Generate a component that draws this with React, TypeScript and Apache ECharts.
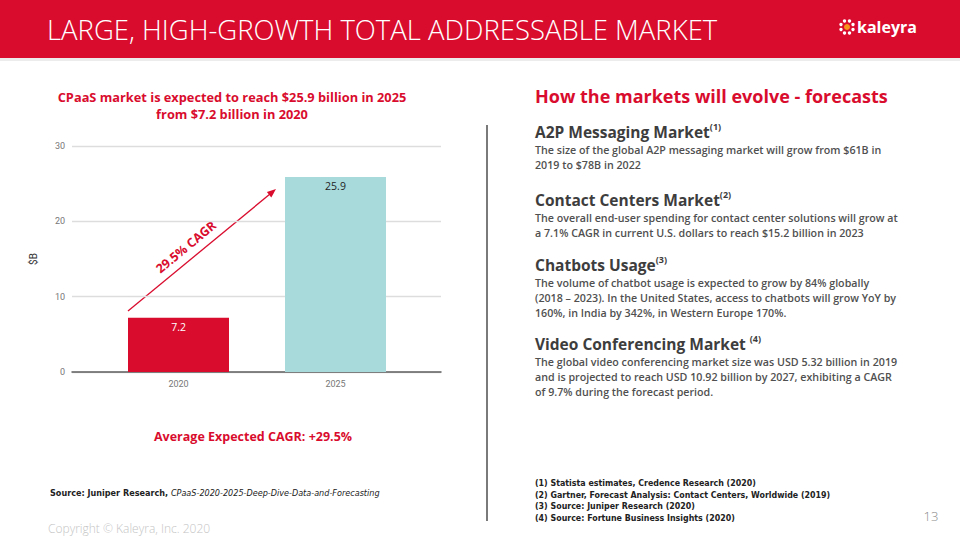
import React, { useEffect, useRef } from "react";
import * as echarts from "echarts";

const categories = ["2020", "2025"];
const values = [7.2, 25.9];
const barColors = ["#D90C2E", "#A8DADC"];
const labelColors = ["#ffffff", "#1f1f1f"];
const yMin = 0;
const yMax = 30;
const yInterval = 10;

const headerTitle = "LARGE, HIGH-GROWTH TOTAL ADDRESSABLE MARKET";
const chartTitleLines = [
  "CPaaS market is expected to reach $25.9 billion in 2025",
  "from $7.2 billion in 2020",
];
const cagrLabel = "29.5% CAGR";
const avgCagr = "Average Expected CAGR: +29.5%";
const rightTitle = "How the markets will evolve - forecasts";
const headings = [
  "A2P Messaging Market",
  "Contact Centers Market",
  "Chatbots Usage",
  "Video Conferencing Market ",
];
const sups = ["(1)", "(2)", "(3)", "(4)"];
const bodies = [
  [
    "The size of the global A2P messaging market will grow from $61B in",
    "2019 to $78B in 2022",
  ],
  [
    "The overall end-user spending for contact center solutions will grow at",
    "a 7.1% CAGR in current U.S. dollars to reach $15.2 billion in 2023",
  ],
  [
    "The volume of chatbot usage is expected to grow by 84% globally",
    "(2018 \u2013 2023). In the United States, access to chatbots will grow YoY by",
    "160%, in India by 342%, in Western Europe 170%.",
  ],
  [
    "The global video conferencing market size was USD 5.32 billion in 2019",
    "and is projected to reach USD 10.92 billion by 2027, exhibiting a CAGR",
    "of 9.7% during the forecast period.",
  ],
];
const footnotes = [
  "(1) Statista estimates, Credence Research (2020)",
  "(2) Gartner, Forecast Analysis: Contact Centers, Worldwide (2019)",
  "(3) Source: Juniper Research (2020)",
  "(4) Source: Fortune Business Insights (2020)",
];
const sourceLead = "Source: Juniper Research, ";
const sourceItalic = "CPaaS-2020-2025-Deep-Dive-Data-and-Forecasting";
const copyright = "Copyright \u00a9 Kaleyra, Inc. 2020";
const pageNumber = "13";

const RED = "#D90C2E";
const HEAD_FONT = "'Open Sans', 'Noto Sans', sans-serif";
const NARROW = "'Liberation Sans Narrow', 'DejaVu Sans Condensed', 'Open Sans', sans-serif";

export default function App() {
  const ref = useRef<HTMLDivElement>(null);
  useEffect(() => {
    document.body.style.margin = "0";
    const chart = echarts.init(ref.current!, null, { renderer: "svg" });

    const sectionY = [132, 200, 265, 344];
    const graphic: any[] = [];
    // header
    graphic.push({ type: "rect", shape: { x: 0, y: 0, width: 960, height: 58 }, style: { fill: RED } });
    graphic.push({ type: "rect", shape: { x: 0, y: 58, width: 960, height: 3 }, style: { fill: "#ececec" } });
    graphic.push({
      type: "text", x: 47, y: 29,
      style: { text: headerTitle, fill: "#ffffff", font: `300 27.5px ${HEAD_FONT}`, verticalAlign: "middle" },
    });
    // logo
    const cx = 847, cy = 27;
    for (let i = 0; i < 8; i++) {
      const a = (i * Math.PI) / 4 + Math.PI / 8;
      graphic.push({ type: "circle", shape: { cx: cx + 6.5 * Math.cos(a), cy: cy + 6.5 * Math.sin(a), r: 1.7 }, style: { fill: "#ffffff" } });
    }
    graphic.push({ type: "circle", shape: { cx, cy, r: 3 }, style: { fill: "#F7941D" } });
    graphic.push({
      type: "text", x: 857, y: 27,
      style: { text: "kaleyra", fill: "#ffffff", font: `700 16px ${HEAD_FONT}`, verticalAlign: "middle" },
    });
    // chart title
    chartTitleLines.forEach((t, i) => {
      graphic.push({
        type: "text", x: 232, y: 97 + i * 17,
        style: { text: t, fill: RED, font: `700 12.8px ${HEAD_FONT}`, align: "center", verticalAlign: "middle" },
      });
    });
    // arrow
    graphic.push({ type: "line", shape: { x1: 128, y1: 311, x2: 270, y2: 194 }, style: { stroke: RED, lineWidth: 1.3 } });
    graphic.push({ type: "polygon", shape: { points: [[276, 189], [271.3, 197.4], [266.9, 192.0]] }, style: { fill: RED } });
    graphic.push({
      type: "text", x: 186, y: 247, rotation: 0.69,
      style: { text: cagrLabel, fill: RED, font: `700 12.5px ${HEAD_FONT}`, align: "center", verticalAlign: "middle" },
    });
    graphic.push({
      type: "text", x: 253, y: 436,
      style: { text: avgCagr, fill: RED, font: `700 12.5px ${HEAD_FONT}`, align: "center", verticalAlign: "middle" },
    });
    // source
    graphic.push({
      type: "text", x: 50, y: 493,
      style: {
        text: `{a|${sourceLead}}{b|${sourceItalic}}`,
        verticalAlign: "middle",
        rich: {
          a: { fill: "#222", font: `700 9px ${NARROW}` },
          b: { fill: "#222", font: `italic 400 9px ${NARROW}` },
        },
      },
    });
    graphic.push({
      type: "text", x: 48, y: 528,
      style: { text: copyright, fill: "#c4c4c4", font: `300 12px ${HEAD_FONT}`, verticalAlign: "middle" },
    });
    graphic.push({
      type: "text", x: 931, y: 516,
      style: { text: pageNumber, fill: "#8a8a8a", font: `300 13px ${HEAD_FONT}`, align: "center", verticalAlign: "middle" },
    });
    // divider
    graphic.push({ type: "rect", shape: { x: 486, y: 125, width: 2, height: 396 }, style: { fill: "#7a7a7a" } });
    // right side
    graphic.push({
      type: "text", x: 535, y: 96,
      style: { text: rightTitle, fill: RED, font: `700 18px ${HEAD_FONT}`, verticalAlign: "middle" },
    });
    headings.forEach((h, i) => {
      graphic.push({
        type: "text", x: 535, y: sectionY[i],
        style: {
          text: `{h|${h}}{s|${sups[i]}}`,
          verticalAlign: "middle",
          rich: {
            h: { fill: "#3d3d3d", font: `700 15.5px ${HEAD_FONT}`, lineHeight: 20 },
            s: { fill: "#3d3d3d", font: `700 9px ${HEAD_FONT}`, verticalAlign: "top", lineHeight: 20, padding: [0, 0, 8, 0] },
          },
        },
      });
      graphic.push({
        type: "text", x: 535, y: sectionY[i] + 11,
        style: {
          text: bodies[i].join("\n"), fill: "#505050", font: `600 10.7px ${HEAD_FONT}`,
          lineHeight: 14.8, verticalAlign: "top",
        },
      });
    });
    footnotes.forEach((f, i) => {
      graphic.push({
        type: "text", x: 535, y: 483 + i * 11.6,
        style: { text: f, fill: "#222", font: `700 8.8px ${NARROW}`, verticalAlign: "middle" },
      });
    });

    chart.setOption({
      animation: false,
      backgroundColor: "#ffffff",
      grid: [
        { left: 72, top: 146, width: 369, height: 226 },
        { left: 100, top: 146, width: 314, height: 226 },
      ],
      xAxis: [
        {
          type: "category", gridIndex: 0, data: categories,
          axisLine: { lineStyle: { color: "#5f5f5f", width: 1.5 } },
          axisTick: { show: false }, axisLabel: { show: false }, splitLine: { show: false },
        },
        {
          type: "category", gridIndex: 1, data: categories,
          axisLine: { show: false }, axisTick: { show: false },
          axisLabel: { color: "#777", fontSize: 9, margin: 7, fontFamily: "Roboto, sans-serif" },
        },
      ],
      yAxis: [
        {
          type: "value", gridIndex: 0, min: yMin, max: yMax, interval: yInterval,
          name: "$B", nameLocation: "middle", nameGap: 34, nameRotate: 90,
          nameTextStyle: { color: "#333", fontSize: 10, fontFamily: "Roboto, sans-serif" },
          axisLine: { show: false }, axisTick: { show: false },
          axisLabel: { color: "#777", fontSize: 9, margin: 7, fontFamily: "Roboto, sans-serif" },
          splitLine: { lineStyle: { color: "#dddddd", width: 1.3 } },
        },
        {
          type: "value", gridIndex: 1, min: yMin, max: yMax, interval: yInterval,
          show: false, splitLine: { show: false },
        },
      ],
      series: [
        {
          type: "bar", xAxisIndex: 1, yAxisIndex: 1, barWidth: 101,
          data: values.map((v, i) => ({
            value: v,
            itemStyle: { color: barColors[i] },
            label: { color: labelColors[i] },
          })),
          label: {
            show: true, position: "insideTop", distance: 4,
            fontSize: 10.5, fontFamily: "'Open Sans', sans-serif",
          },
        },
      ],
      graphic,
    });
    return () => chart.dispose();
  }, []);
  return <div ref={ref} style={{ position: "fixed", left: 0, top: 0, width: 960, height: 540 }} />;
}
